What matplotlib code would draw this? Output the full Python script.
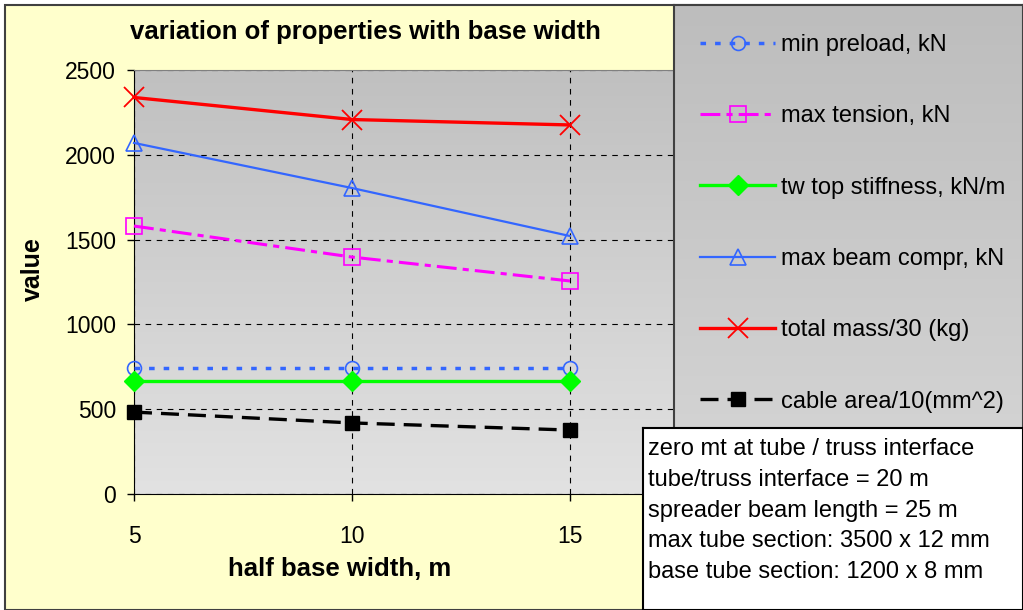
import numpy as np
import matplotlib.pyplot as plt
from matplotlib.patches import Rectangle
from matplotlib.colors import LinearSegmentedColormap

plt.rcParams['font.family'] = ['Liberation Sans', 'DejaVu Sans']

half_width = [5, 10, 15]
min_preload = [743, 743, 743]
max_tension = [1580, 1397, 1256]
tw_stiffness = [666, 666, 666]
max_beam_compr = [2070, 1804, 1521]
total_mass_30 = [2338, 2208, 2176]
cable_area_10 = [483, 419, 377]

note_lines = ["zero mt at tube / truss interface",
              "tube/truss interface = 20 m",
              "spreader beam length = 25 m",
              "max tube section: 3500 x 12 mm",
              "base tube section: 1200 x 8 mm"]

W, H = 1023, 610
fig = plt.figure(figsize=(W / 100, H / 100), dpi=100, facecolor='white')


def fx(px):
    return px / W


def fy(py):
    return 1 - py / H


# chart area background
fig.patches.append(Rectangle((fx(5), 0), 1, fy(5), transform=fig.transFigure,
                             facecolor='#FFFFCC', edgecolor='#404040', lw=1.5, zorder=-10))

# plot area
ax = fig.add_axes([fx(134), fy(494), fx(788 - 134), (494 - 70) / H])
grad = np.linspace(0, 1, 256).reshape(-1, 1)
ax.imshow(grad, extent=[0, 1, 0, 1], transform=ax.transAxes, aspect='auto',
          cmap=LinearSegmentedColormap.from_list('g', ['#E2E2E2', '#C0C0C0']),
          origin='lower', zorder=0)

ax.plot(half_width, min_preload, color='#3366FF', ls=(0, (1.6, 2.6)), lw=2.5,
        marker='o', ms=10, mfc='none', mec='#3366FF', mew=1.2, label='min preload, kN',
        zorder=3, clip_on=False)
ax.plot(half_width, max_tension, color='#FF00FF', ls=(0, (6.5, 2, 2, 2)), lw=2.2,
        marker='s', ms=11, mfc='none', mec='#FF00FF', mew=1.2, label='max tension, kN',
        zorder=3, clip_on=False)
ax.plot(half_width, tw_stiffness, color='#00FF00', ls='-', lw=2.4,
        marker='D', ms=10, mfc='#00FF00', mec='#00FF00', label='tw top stiffness, kN/m',
        zorder=3, clip_on=False)
ax.plot(half_width, max_beam_compr, color='#3366FF', ls='-', lw=1.6,
        marker='^', ms=12, mfc='none', mec='#3366FF', mew=1.2, label='max beam compr, kN',
        zorder=3, clip_on=False)
ax.plot(half_width, total_mass_30, color='#FF0000', ls='-', lw=2.4,
        marker='x', ms=14, mec='#FF0000', mew=1.3, label='total mass/30 (kg)',
        zorder=3, clip_on=False)
ax.plot(half_width, cable_area_10, color='black', ls=(0, (5.4, 2.7)), lw=2.4,
        marker='s', ms=10, mfc='black', mec='black', label='cable area/10(mm^2)',
        zorder=3, clip_on=False)

ax.set_xlim(5, 20)
ax.set_ylim(0, 2500)
ax.set_xticks([5, 10, 15, 20])
ax.set_xticklabels(['5', '10', '15', ''])
ax.set_yticks([0, 500, 1000, 1500, 2000, 2500])
ax.grid(True, color='black', ls=(0, (5, 5)), lw=0.8)
for l in ax.get_xgridlines() + ax.get_ygridlines():
    l.set_zorder(1)
ax.tick_params(direction='out', length=5, width=1, labelsize=16.5, pad=8)
ax.tick_params(axis='x', pad=17)
ax.spines['top'].set_color('#808080')
ax.spines['right'].set_visible(False)
ax.spines['left'].set_color('black')
ax.spines['bottom'].set_color('black')
ax.set_ylabel('value', fontsize=18, fontweight='bold')
ax.set_xlabel('half base width, m', fontsize=18.5, fontweight='bold')
ax.yaxis.set_label_coords((33 - 134) / 654, (494 - 269) / 424)
ax.xaxis.set_label_coords((340 - 134) / 654, (494 - 569) / 424)
ax.xaxis.label.set_va('center')
ax.yaxis.label.set_va('center')

fig.text(fx(365), fy(32), 'variation of properties with base width', ha='center', va='center',
         fontsize=18.5, fontweight='bold')

# legend panel
lax = fig.add_axes([fx(674), 0, 1 - fx(674), fy(5)])
lax.imshow(grad, extent=[0, 1, 0, 1], transform=lax.transAxes, aspect='auto',
           cmap=LinearSegmentedColormap.from_list('g2', ['#DCDCDC', '#BDBDBD']),
           origin='lower', zorder=0)
lax.set_xticks([])
lax.set_yticks([])
for s in lax.spines.values():
    s.set_color('#404040')
    s.set_linewidth(1.5)
handles, labels = ax.get_legend_handles_labels()
lax.legend(handles, labels, loc='upper left', bbox_to_anchor=(fx(700), fy(34)),
           bbox_transform=fig.transFigure, frameon=False, borderpad=0, borderaxespad=0,
           fontsize=17, labelspacing=2.09, handlelength=3.18, handletextpad=0.25, numpoints=1)

# note box
nax = fig.add_axes([fx(643), 0, 1 - fx(643), fy(428)])
nax.set_facecolor('white')
nax.set_xticks([])
nax.set_yticks([])
for s in nax.spines.values():
    s.set_color('black')
    s.set_linewidth(1.5)
for i, line in enumerate(note_lines):
    fig.text(fx(648), fy(449 + i * 30.8), line, ha='left', va='center', fontsize=17, zorder=5)

fig.savefig('out.png', dpi=100, facecolor='white')
